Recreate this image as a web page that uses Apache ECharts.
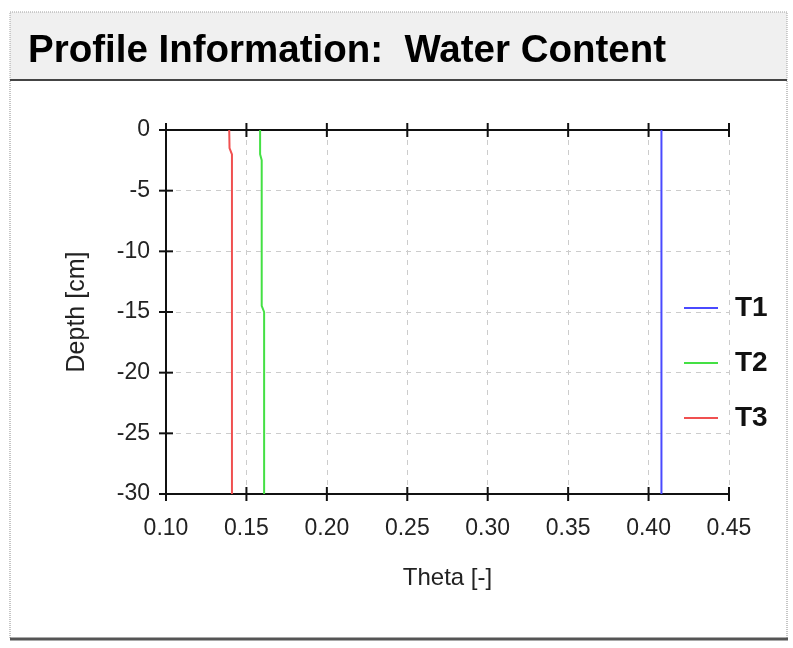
<!DOCTYPE html>
<html>
<head>
<meta charset="utf-8">
<script src="https://cdn.jsdelivr.net/npm/echarts@6/dist/echarts.min.js"></script>
<style>
  html, body { margin: 0; padding: 0; background: #ffffff; }
  #chart { width: 793px; height: 648px; }
</style>
</head>
<body>
<div id="chart"></div>
<script>
// Water content profiles: depth (cm) against theta (-) for three print times
const seriesNames = ['T1', 'T2', 'T3'];
const seriesColors = ['#4a4aff', '#44e044', '#f05050'];

const depthT1 = [0, -30];
const thetaT1 = [0.408, 0.408];

const depthT2 = [0, -2, -2.5, -14.5, -15, -30];
const thetaT2 = [0.1585, 0.1585, 0.1595, 0.1595, 0.161, 0.161];

const depthT3 = [0, -1.5, -2, -30];
const thetaT3 = [0.1393, 0.1395, 0.141, 0.141];

const xTicks = [0.10, 0.15, 0.20, 0.25, 0.30, 0.35, 0.40, 0.45];
const yTicks = [0, -5, -10, -15, -20, -25, -30];

const titleText = 'Profile Information:  Water Content';
const xName = 'Theta [-]';
const yName = 'Depth [cm]';

function pairs(theta, depth) {
  return theta.map((t, i) => [t, depth[i]]);
}
const profiles = [pairs(thetaT1, depthT1), pairs(thetaT2, depthT2), pairs(thetaT3, depthT3)];

const xMin = xTicks[0], xMax = xTicks[xTicks.length - 1], xStep = xTicks[1] - xTicks[0];
const yMin = yTicks[yTicks.length - 1], yMax = yTicks[0], yStep = yTicks[0] - yTicks[1];

const FONT = '"Liberation Sans", Arial, sans-serif';
const chart = echarts.init(document.getElementById('chart'), null, { renderer: 'canvas' });

const gridLine = { show: true, lineStyle: { color: '#cccccc', type: [5, 5], width: 1 } };
const axisLine = { show: true, onZero: false, lineStyle: { color: '#111111', width: 2 } };

// tick marks that cross the frame lines (half inside, half outside)
const TICK_HALF = 7;
const tickStyle = { stroke: '#111111', lineWidth: 2 };
const tickData = xTicks.map(v => [0, v]).concat(yTicks.map(v => [1, v]));
function renderTick(params, api) {
  const kind = api.value(0), v = api.value(1);
  if (kind === 0) {
    const b = api.coord([v, yMin]);
    const t = api.coord([v, yMax]);
    return { type: 'group', children: [
      { type: 'line', shape: { x1: b[0], y1: b[1] - TICK_HALF, x2: b[0], y2: b[1] + TICK_HALF }, style: tickStyle },
      { type: 'line', shape: { x1: t[0], y1: t[1] - TICK_HALF, x2: t[0], y2: t[1] + TICK_HALF }, style: tickStyle }
    ] };
  }
  const p = api.coord([xMin, v]);
  return { type: 'line', shape: { x1: p[0] - TICK_HALF, y1: p[1], x2: p[0] + TICK_HALF, y2: p[1] }, style: tickStyle };
}

const lineSeries = profiles.map((d, i) => ({
  name: seriesNames[i], type: 'line', data: d,
  showSymbol: false, symbol: 'none', z: 3,
  lineStyle: { color: seriesColors[i], width: 2 },
  itemStyle: { color: seriesColors[i] }
}));

chart.setOption({
  animation: false,
  backgroundColor: '#ffffff',
  graphic: [
    // title bar
    { type: 'rect', shape: { x: 10, y: 12, width: 777, height: 68 },
      style: { fill: '#f0f0f0', stroke: '#a0a0a0', lineWidth: 1, lineDash: [1, 1] }, z: -10 },
    // body frame
    { type: 'rect', shape: { x: 10, y: 80, width: 777, height: 559 },
      style: { fill: '#ffffff', stroke: '#8c8c8c', lineWidth: 1, lineDash: [1, 1] }, z: -10 },
    { type: 'line', shape: { x1: 10, y1: 80, x2: 787, y2: 80 },
      style: { stroke: '#444444', lineWidth: 2 }, z: -9 },
    { type: 'line', shape: { x1: 10, y1: 639, x2: 788, y2: 639 },
      style: { stroke: '#555555', lineWidth: 3 }, z: -9 },
    { type: 'text', left: 28, top: 32,
      style: { text: titleText, font: 'bold 38.5px ' + FONT, fill: '#000000' } }
  ],
  grid: { left: 166, right: 64, top: 130, bottom: 154, containLabel: false },
  legend: {
    orient: 'vertical', left: 679, top: 288, itemGap: 25,
    itemWidth: 34, itemHeight: 2, icon: 'rect',
    data: seriesNames,
    textStyle: { fontFamily: FONT, fontWeight: 'bold', fontSize: 28, color: '#111111',
      lineHeight: 30, padding: [0, 0, 0, 12] }
  },
  xAxis: [{
    type: 'value', position: 'bottom', min: xMin, max: xMax, interval: xStep,
    name: xName, nameLocation: 'middle', nameGap: 72,
    nameTextStyle: { fontFamily: FONT, fontSize: 24, color: '#222222' },
    axisLine: axisLine, axisTick: { show: false }, splitLine: gridLine,
    axisLabel: { fontFamily: FONT, fontSize: 23, color: '#222222', margin: 23,
      formatter: v => v.toFixed(2) }
  }, {
    type: 'value', position: 'top', min: xMin, max: xMax, interval: xStep,
    axisLine: axisLine, axisTick: { show: false }, splitLine: { show: false },
    axisLabel: { show: false }
  }],
  yAxis: {
    type: 'value', min: yMin, max: yMax, interval: yStep,
    name: yName, nameLocation: 'middle', nameGap: 76,
    nameTextStyle: { fontFamily: FONT, fontSize: 25, color: '#222222' },
    axisLine: axisLine, axisTick: { show: false }, splitLine: gridLine,
    axisLabel: { fontFamily: FONT, fontSize: 23, color: '#222222', margin: 16 }
  },
  series: lineSeries.concat([{
    type: 'custom', data: tickData, renderItem: renderTick, clip: false, silent: true, z: 4,
    encode: { x: -1, y: -1 }
  }])
});
</script>
</body>
</html>
